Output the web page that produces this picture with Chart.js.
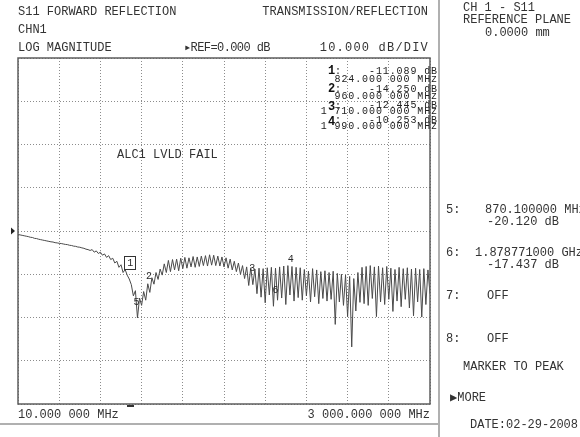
<!DOCTYPE html>
<html>
<head>
<meta charset="utf-8">
<script src="https://cdn.jsdelivr.net/npm/chart.js@4.4.1/dist/chart.umd.min.js"></script>
<style>
  html, body { margin: 0; padding: 0; background: #fff; }
  #wrap { position: relative; width: 580px; height: 437px; overflow: hidden; background: #fff; }
  #c { position: absolute; left: 0; top: 0; }
  .t { position: absolute; font-family: "Liberation Mono", "DejaVu Sans Mono", monospace; font-size: 12px; line-height: 12px; color: #333; white-space: pre; }
  .s { font-size: 10px; line-height: 10px; letter-spacing: 0.9px; color: #222; }
  .b { font-weight: bold; font-size: 12px; color: #111; }
  .vline { position: absolute; left: 438px; top: 0; width: 2px; height: 437px; background: #b0b0b0; }
  .hline { position: absolute; left: 0; top: 423px; width: 440px; height: 2px; background: #b0b0b0; }
</style>
</head>
<body>
<div id="wrap">
  <canvas id="c" width="580" height="437"></canvas>
  <div class="vline"></div>
  <div class="hline"></div>

  <div class="t" style="left:18px; top:6px;">S11 FORWARD REFLECTION</div>
  <div class="t" style="right:152px; top:6px;">TRANSMISSION/REFLECTION</div>
  <div class="t" style="left:18px; top:24px;">CHN1</div>
  <div class="t" style="left:18px; top:42px;">LOG MAGNITUDE</div>
  <div class="t" style="left:184px; top:42px; letter-spacing:-0.6px;">▸REF=0.000 dB</div>
  <div class="t" style="right:151px; top:42px; letter-spacing:1.2px;">10.000 dB/DIV</div>

  <div class="t" style="left:117px; top:149px;">ALC1 LVLD FAIL</div>

  <div class="t b" style="left:328px; top:65px;">1</div><div class="t s" style="left:335px; top:67px;">:</div>
  <div class="t s" style="right:142px; top:67px;">-11.089 dB</div>
  <div class="t s" style="right:142px; top:75px;">824.000 000 MHz</div>
  <div class="t b" style="left:328px; top:83px;">2</div><div class="t s" style="left:335px; top:85px;">:</div>
  <div class="t s" style="right:142px; top:85px;">-14.250 dB</div>
  <div class="t s" style="right:142px; top:92px;">960.000 000 MHz</div>
  <div class="t b" style="left:328px; top:101px;">3</div><div class="t s" style="left:335px; top:102px;">:</div>
  <div class="t s" style="right:142px; top:101px;">-12.445 dB</div>
  <div class="t s" style="right:142px; top:107px;">1 710.000 000 MHz</div>
  <div class="t b" style="left:328px; top:116px;">4</div><div class="t s" style="left:335px; top:116px;">:</div>
  <div class="t s" style="right:142px; top:116px;">-10.253 dB</div>
  <div class="t s" style="right:142px; top:122px;">1 990.000 000 MHz</div>

  <div class="t" style="left:18px; top:409px;">10.000 000 MHz</div>
  <div class="t" style="right:150px; top:409px;">3 000.000 000 MHz</div>

  <div class="t" style="left:463px; top:2px;">CH 1 - S11</div>
  <div class="t" style="left:463px; top:14px;">REFERENCE PLANE</div>
  <div class="t" style="left:485px; top:27px;">0.0000 mm</div>
  <div class="t" style="left:446px; top:204px;">5:</div>
  <div class="t" style="left:485px; top:204px;">870.100000 MHz</div>
  <div class="t" style="left:487px; top:216px;">-20.120 dB</div>
  <div class="t" style="left:446px; top:247px;">6:</div>
  <div class="t" style="left:475px; top:247px;">1.878771000 GHz</div>
  <div class="t" style="left:487px; top:259px;">-17.437 dB</div>
  <div class="t" style="left:446px; top:290px;">7:</div>
  <div class="t" style="left:487px; top:290px;">OFF</div>
  <div class="t" style="left:446px; top:333px;">8:</div>
  <div class="t" style="left:487px; top:333px;">OFF</div>
  <div class="t" style="left:463px; top:361px;">MARKER TO PEAK</div>
  <div class="t" style="left:450px; top:392px;">▶MORE</div>
  <div class="t" style="left:470px; top:419px;">DATE:02-29-2008</div>
</div>

<script>
// ---- sweep / axis setup ----
const START_MHZ = 10;
const STOP_MHZ = 3000;
const REF_DB = 0;
const SCALE_DB_PER_DIV = 10;
const Y_MIN_DB = -40;
const Y_MAX_DB = 40;

const S11_DB = [
  -0.8, -0.9, -1.0, -1.1, -1.2, -1.3, -1.45, -1.5, -1.7, -1.75,
  -1.9, -2.0, -2.1, -2.2, -2.3, -2.4, -2.5, -2.55, -2.7, -2.75,
  -2.85, -2.9, -3.0, -3.1, -3.15, -3.3, -3.35, -3.5, -3.55, -3.7,
  -3.75, -3.9, -4.0, -4.2, -4.3, -4.5, -4.3, -4.9, -4.6, -5.2,
  -4.9, -5.6, -5.3, -6.1, -5.7, -6.6, -6.3, -7.4, -7.0, -8.4,
  -7.8, -9.6, -8.9, -10.2, -11.1, -12.4, -15.0, -13.8, -20.1, -15.5,
  -17.2, -14.0, -16.0, -12.2, -14.2, -10.8, -12.3, -9.6, -11.2, -8.8,
  -10.2, -7.6, -9.6, -6.8, -9.4, -6.6, -9.0, -6.5, -9.2, -6.3,
  -8.7, -6.1, -8.6, -6.2, -8.3, -5.9, -8.4, -6.0, -8.2, -5.8,
  -8.0, -5.7, -8.1, -5.5, -7.9, -5.6, -8.0, -5.8, -8.1, -6.0,
  -8.3, -6.2, -8.6, -6.5, -9.0, -7.0, -9.4, -7.4, -10.0, -8.0,
  -11.0, -8.3, -12.6, -8.5, -12.4, -8.8, -14.5, -8.6, -15.3, -8.7,
  -16.6, -8.5, -14.8, -8.4, -17.4, -8.6, -16.0, -8.3, -15.5, -8.1,
  -17.0, -8.0, -14.8, -8.2, -16.2, -8.4, -15.4, -8.5, -16.0, -8.9,
  -15.0, -9.3, -16.4, -8.7, -15.2, -9.0, -16.8, -9.4, -15.6, -9.2,
  -16.2, -9.6, -15.8, -9.3, -21.6, -9.8, -16.4, -10.0, -17.2, -10.2,
  -19.8, -10.5, -26.8, -11.0, -18.5, -9.6, -16.5, -8.4, -16.8, -8.2,
  -17.2, -8.0, -15.6, -8.3, -19.8, -8.1, -16.4, -8.5, -17.0, -8.2,
  -15.8, -8.6, -18.6, -8.9, -16.2, -8.4, -17.5, -8.7, -15.8, -8.5,
  -17.8, -8.8, -19.6, -8.6, -16.4, -8.9, -19.9, -8.7, -17.0, -9.0,
  -14.5
];

// ---- markers ----
const MARKER_NAMES = ['1', '2', '3', '4', '5', '6'];
const MARKER_FREQ_MHZ = [824.0, 960.0, 1710.0, 1990.0, 870.1, 1878.771];
const MARKER_DB = [-11.089, -14.250, -12.445, -10.253, -20.120, -17.437];
const ACTIVE_MARKER = 0;

// sweep point frequencies (evenly spaced, as the analyzer sweeps)
const N = S11_DB.length;
const points = S11_DB.map((v, i) => ({
  x: START_MHZ + i * (STOP_MHZ - START_MHZ) / (N - 1),
  y: v
}));

const overlay = {
  id: 'overlay',
  afterDatasetsDraw(chart) {
    const { ctx, chartArea: a, scales: { x, y } } = chart;
    ctx.save();
    ctx.strokeStyle = '#5e5e5e';
    ctx.lineWidth = 1.5;
    ctx.strokeRect(a.left, a.top, a.right - a.left, a.bottom - a.top);
    const yr = y.getPixelForValue(REF_DB);
    ctx.fillStyle = '#222';
    ctx.beginPath();
    ctx.moveTo(a.left - 7, yr - 3.5);
    ctx.lineTo(a.left - 3, yr);
    ctx.lineTo(a.left - 7, yr + 3.5);
    ctx.closePath();
    ctx.fill();
    const xs = x.getPixelForValue(MARKER_FREQ_MHZ[ACTIVE_MARKER]);
    ctx.fillStyle = '#333';
    ctx.fillRect(Math.round(xs) - 3, Math.round(a.bottom) + 1, 7, 2);
    ctx.font = '10px "Liberation Mono", "DejaVu Sans Mono", monospace';
    ctx.textAlign = 'center';
    ctx.textBaseline = 'middle';
    ctx.fillStyle = '#2a2a2a';
    MARKER_FREQ_MHZ.forEach((f, k) => {
      const px = x.getPixelForValue(f);
      const py = y.getPixelForValue(MARKER_DB[k]) - 16;
      ctx.fillText(MARKER_NAMES[k], px, py);
      if (k === ACTIVE_MARKER) {
        ctx.strokeStyle = '#333';
        ctx.lineWidth = 1;
        ctx.strokeRect(Math.round(px) - 5.5, Math.round(py) - 6.5, 11, 13);
      }
    });
    ctx.restore();
  }
};

function evenTicks(scale, divs) {
  const step = (scale.max - scale.min) / divs;
  const t = [];
  for (let k = 0; k <= divs; k++) t.push({ value: scale.min + k * step });
  scale.ticks = t;
}

new Chart(document.getElementById('c'), {
  type: 'line',
  data: {
    datasets: [{
      label: 'S11',
      data: points,
      borderColor: '#4a4a4a',
      borderWidth: 1,
      pointRadius: 0,
      tension: 0,
      fill: false
    }]
  },
  options: {
    responsive: false,
    animation: false,
    devicePixelRatio: 1,
    layout: { padding: { left: 18, top: 58, right: 150, bottom: 33 } },
    plugins: { legend: { display: false }, tooltip: { enabled: false } },
    scales: {
      x: {
        type: 'linear',
        min: START_MHZ,
        max: STOP_MHZ,
        afterBuildTicks: s => evenTicks(s, 10),
        ticks: { display: false },
        grid: { color: '#8c8c8c', lineWidth: 1, drawTicks: false },
        border: { display: false, dash: [1, 2] }
      },
      y: {
        type: 'linear',
        min: Y_MIN_DB,
        max: Y_MAX_DB,
        afterBuildTicks: s => evenTicks(s, (Y_MAX_DB - Y_MIN_DB) / SCALE_DB_PER_DIV),
        ticks: { display: false },
        grid: { color: '#8c8c8c', lineWidth: 1, drawTicks: false },
        border: { display: false, dash: [1, 2] }
      }
    }
  },
  plugins: [overlay]
});
</script>
</body>
</html>
